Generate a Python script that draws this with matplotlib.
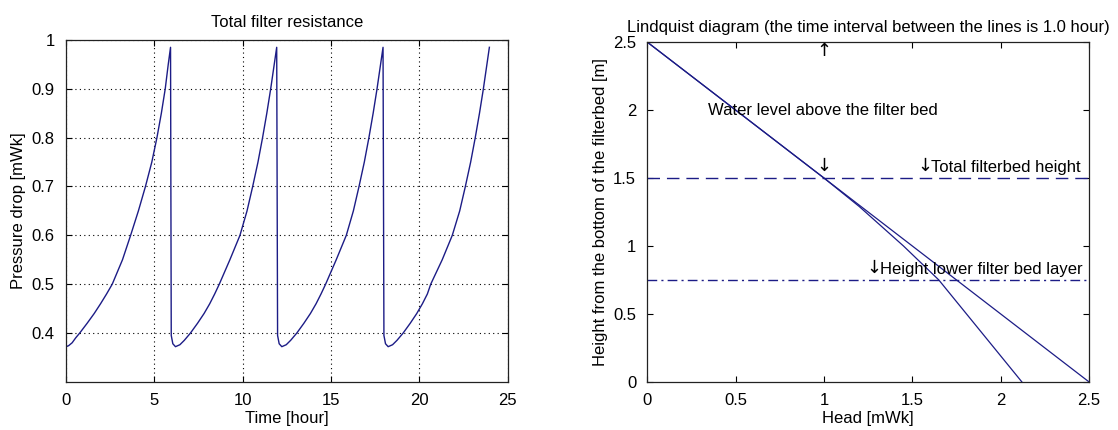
import numpy as np
import matplotlib
matplotlib.use("Agg")
import matplotlib.pyplot as plt

plt.rcParams['font.family'] = ['Liberation Sans', 'DejaVu Sans']
plt.rcParams['font.size'] = 12

# Filter run: pressure drop over time (four runs of about 6 hours)
time_h = [
    0.0, 0.15, 0.35, 0.55, 0.78, 1.2, 1.6, 1.96, 2.3, 2.62, 3.2, 3.66, 4.1, 4.5, 4.86, 5.15, 5.4, 5.62, 5.79, 5.92,
    5.96, 6.05, 6.2, 6.45, 6.7, 7.05, 7.45, 7.82, 8.14, 8.42, 8.68, 9.28, 9.85, 10.25, 10.57, 10.87, 11.13, 11.37, 11.59, 11.79, 11.93,
    11.98, 12.07, 12.22, 12.47, 12.72, 13.07, 13.47, 13.84, 14.16, 14.44, 14.7, 15.3, 15.87, 16.27, 16.59, 16.89, 17.15, 17.39, 17.61, 17.81, 17.95,
    18.0, 18.09, 18.24, 18.49, 18.74, 19.09, 19.49, 19.86, 20.18, 20.46, 20.65, 21.3, 21.87, 22.29, 22.61, 22.91, 23.17, 23.41, 23.63, 23.83, 23.97,
]
pressure_drop = [
    0.372, 0.374, 0.38, 0.39, 0.40, 0.42, 0.44, 0.46, 0.48, 0.50, 0.55, 0.60, 0.65, 0.70, 0.75, 0.80, 0.85, 0.90, 0.95, 0.985,
    0.395, 0.378, 0.372, 0.376, 0.385, 0.40, 0.42, 0.44, 0.46, 0.48, 0.50, 0.55, 0.60, 0.65, 0.70, 0.75, 0.80, 0.85, 0.90, 0.95, 0.985,
    0.395, 0.378, 0.372, 0.376, 0.385, 0.40, 0.42, 0.44, 0.46, 0.48, 0.50, 0.55, 0.60, 0.65, 0.70, 0.75, 0.80, 0.85, 0.90, 0.95, 0.985,
    0.395, 0.378, 0.372, 0.376, 0.385, 0.40, 0.42, 0.44, 0.46, 0.48, 0.50, 0.55, 0.60, 0.65, 0.70, 0.75, 0.80, 0.85, 0.90, 0.95, 0.985,
]

# Lindquist diagram: head lines through the filter bed
head_start = [0.0, 2.5]
height_start = [2.5, 0.0]
head_end = [0.0, 1.0, 1.2, 1.45, 1.65, 2.12]
height_end = [2.5, 1.5, 1.29, 1.0, 0.75, 0.0]
filterbed_height = 1.5
lower_layer_height = 0.75

line_col = '#1c1c86'
arrow_font = ['DejaVu Sans']

fig = plt.figure(figsize=(11.18, 4.30), dpi=100)
fig.patch.set_facecolor('white')

# --- Total filter resistance ---
ax1 = fig.add_axes([0.059, 0.112, 0.395, 0.795])
ax1.plot(time_h, pressure_drop, color=line_col, lw=1.0)
ax1.set_xlim(0, 25)
ax1.set_ylim(0.3, 1.0)
ax1.set_xticks([0, 5, 10, 15, 20, 25])
ax1.set_yticks([0.4, 0.5, 0.6, 0.7, 0.8, 0.9, 1.0])
ax1.set_yticklabels(['0.4', '0.5', '0.6', '0.7', '0.8', '0.9', '1'])
ax1.grid(True, color='black', linestyle=(0, (1, 3)), linewidth=0.8)
ax1.set_title('Total filter resistance', fontsize=12, pad=9)
ax1.set_xlabel('Time [hour]', labelpad=2)
ax1.set_ylabel('Pressure drop [mWk]', labelpad=4)

# --- Lindquist diagram ---
ax2 = fig.add_axes([0.579, 0.112, 0.395, 0.79])
ax2.plot(head_start, height_start, color=line_col, lw=0.9)
ax2.plot(head_end, height_end, color=line_col, lw=0.9)
ax2.axhline(filterbed_height, color=line_col, lw=1.0, linestyle=(0, (9, 5)))
ax2.axhline(lower_layer_height, color=line_col, lw=1.0, linestyle=(0, (7, 3, 1.5, 3)))
ax2.set_xlim(0, 2.5)
ax2.set_ylim(0, 2.5)
ax2.set_xticks([0, 0.5, 1, 1.5, 2, 2.5])
ax2.set_xticklabels(['0', '0.5', '1', '1.5', '2', '2.5'])
ax2.set_yticks([0, 0.5, 1, 1.5, 2, 2.5])
ax2.set_yticklabels(['0', '0.5', '1', '1.5', '2', '2.5'])
ax2.set_title('Lindquist diagram (the time interval between the lines is 1.0 hour)', fontsize=12, pad=7)
ax2.set_xlabel('Head [mWk]', labelpad=2)
ax2.set_ylabel('Height from the bottom of the filterbed [m]', labelpad=4)

ax2.text(1.0, 2.5, '\u2191', ha='center', va='top', family=arrow_font, fontsize=13)
ax2.text(0.343, 2.0, 'Water level above the filter bed', ha='left', va='center')
ax2.text(1.0, 1.52, '\u2193', ha='center', va='bottom', family=arrow_font, fontsize=13)
ax2.text(1.53, 1.52, '\u2193', ha='left', va='bottom', family=arrow_font, fontsize=13)
ax2.text(1.605, 1.52, 'Total filterbed height', ha='left', va='bottom')
ax2.text(1.24, 0.77, '\u2193', ha='left', va='bottom', family=arrow_font, fontsize=13)
ax2.text(1.315, 0.77, 'Height lower filter bed layer', ha='left', va='bottom')

for ax in (ax1, ax2):
    ax.tick_params(direction='in', top=True, right=True, length=4, width=0.8, pad=8)
    for s in ax.spines.values():
        s.set_linewidth(0.9)
        s.set_color('#222222')

fig.savefig('out.png', dpi=100, facecolor='white')
